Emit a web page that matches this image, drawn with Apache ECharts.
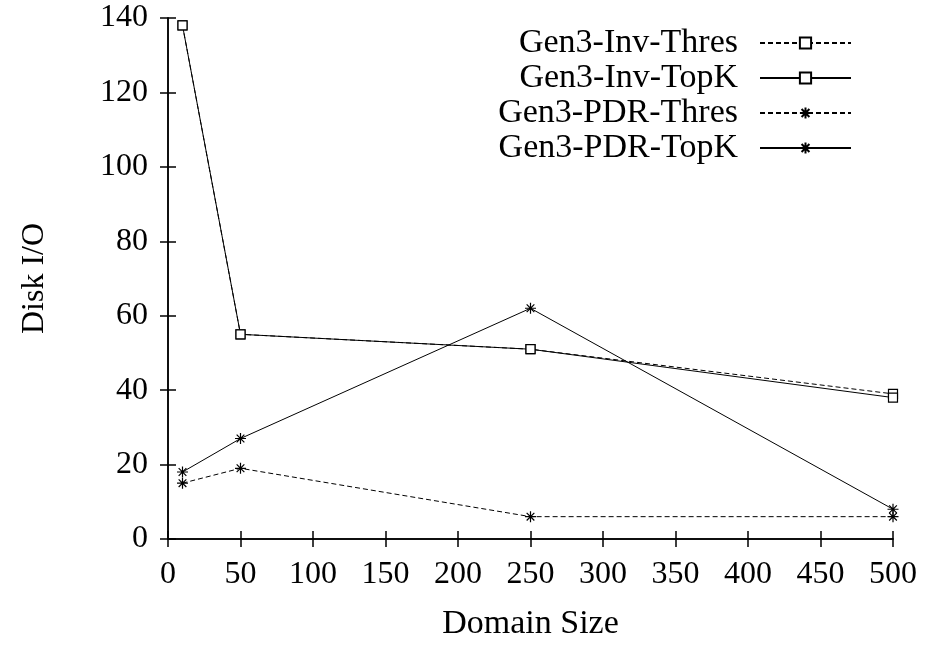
<!DOCTYPE html>
<html><head><meta charset="utf-8">
<script src="https://cdn.jsdelivr.net/npm/echarts@6/dist/echarts.min.js"></script>
<style>html,body{margin:0;padding:0;background:#fff;overflow:hidden}#c{width:927px;height:646px}</style>
</head><body><div id="c"></div>
<script>
const domainSizes = [10, 50, 250, 500];
const invThres = [138, 55, 51, 39];
const invTopK = [138, 55, 51, 38];
const pdrThres = [15, 19, 6, 6];
const pdrTopK = [18, 27, 62, 8];
const seriesNames = ['Gen3-Inv-Thres', 'Gen3-Inv-TopK', 'Gen3-PDR-Thres', 'Gen3-PDR-TopK'];
const xTicks = [0, 50, 100, 150, 200, 250, 300, 350, 400, 450, 500];
const yTicks = [0, 20, 40, 60, 80, 100, 120, 140];

const FONT = 'Liberation Serif';
const star = 'path://M0,-10L0,10M-10,0L10,0M-7,-7L7,7M-7,7L7,-7';
function pts(ys){ return domainSizes.map((x,i)=>[x, ys[i]]); }
function mk(name, ys, dashed, sym){
  return {
    name, type:'line', data: pts(ys), symbol: sym, symbolSize: sym==='rect'?9:11,
    showSymbol:true,
    lineStyle:{color:'#000', width:1, type: dashed ? [5,3] : 'solid'},
    itemStyle:{color: sym==='rect' ? '#fff' : '#000', borderColor:'#000', borderWidth:1.2},
    emphasis:{disabled:true}, animation:false, z: 3
  };
}
const axisCommon = {
  axisLine:{show:true, lineStyle:{color:'#000', width:1.5}},
  axisTick:{show:true, inside:true, length:8, lineStyle:{color:'#000', width:1.5}},
  splitLine:{show:false}
};
const chart = echarts.init(document.getElementById('c'), null, {width:927, height:646});
chart.setOption({
  animation:false,
  grid:{left:168, top:18, width:725, height:526, show:false},
  legend:{
    right:70, top:21, orient:'vertical', align:'right',
    itemWidth:91, itemHeight:14, itemGap:1,
    textStyle:{fontFamily:FONT, fontSize:34, lineHeight:34, color:'#000', padding:[0,17,0,0]},
    data: seriesNames
  },
  xAxis:[
    Object.assign({type:'value', min:0, max:500, interval:50, position:'bottom',
      axisLabel:{fontFamily:FONT, fontSize:32, color:'#000', margin:20},
      name:'Domain Size', nameLocation:'middle', nameGap:68,
      nameTextStyle:{fontFamily:FONT, fontSize:34, color:'#000'}}, axisCommon),
    Object.assign({type:'value', min:0, max:500, interval:50, position:'top',
      axisLabel:{show:false}}, axisCommon)
  ],
  yAxis:[
    Object.assign({type:'value', min:0, max:140, interval:20, position:'left',
      axisLabel:{fontFamily:FONT, fontSize:32, color:'#000', margin:20},
      name:'Disk I/O', nameLocation:'middle', nameGap:117, nameRotate:90,
      nameTextStyle:{fontFamily:FONT, fontSize:32, color:'#000'}}, axisCommon),
    Object.assign({type:'value', min:0, max:140, interval:20, position:'right',
      axisLabel:{show:false}}, axisCommon)
  ],
  series:[
    mk(seriesNames[0], invThres, true, 'rect'),
    mk(seriesNames[1], invTopK, false, 'rect'),
    mk(seriesNames[2], pdrThres, true, star),
    mk(seriesNames[3], pdrTopK, false, star)
  ]
});
</script></body></html>
